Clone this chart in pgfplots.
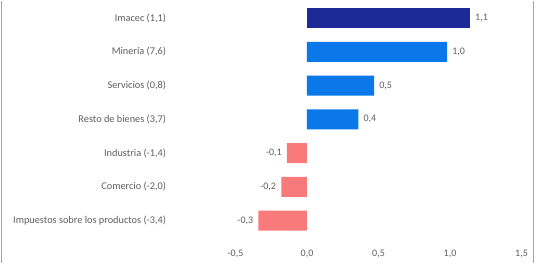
\documentclass[border=0pt]{standalone}
\usepackage{pgfplots}
\pgfplotsset{compat=1.18}
\usepackage{fontspec}
\setmainfont{Carlito}
\definecolor{navy}{HTML}{1B2A96}
\definecolor{bblue}{HTML}{0B78EA}
\definecolor{salmon}{HTML}{F87A7A}
\definecolor{txt}{HTML}{5E5E5E}
\begin{document}
\begin{tikzpicture}
\path (-235.5pt,-25pt) rectangle (304.5pt,237pt);
\draw[gray!70, line width=1pt] (-233.5pt,-25pt) -- (-233.5pt,237pt);
\draw[gray!70, line width=1pt] (297.5pt,-25pt) -- (297.5pt,237pt);
\begin{axis}[
  at={(0pt,0pt)}, anchor=south west,
  scale only axis,
  width=286pt, height=236.4pt,
  xbar, bar width=20pt,
  xmin=-0.5, xmax=1.5,
  ymin=-0.5, ymax=6.5, y dir=reverse,
  xtick={-0.5,0,0.5,1,1.5},
  ytick={0,1,2,3,4,5,6},
  yticklabels={{Imacec (1,1)},{Minería (7,6)},{Servicios (0,8)},{Resto de bienes (3,7)},{Industria (-1,4)},{Comercio (-2,0)},{Impuestos sobre los productos (-3,4)}},
  axis line style={draw=none},
  major tick length=0pt,
  tick label style={font=\fontsize{10}{11}\selectfont, text=txt},
  yticklabel style={anchor=east, xshift=-66pt, font=\fontsize{10.3}{11}\selectfont},
  xticklabel style={yshift=-9pt},
  /pgf/number format/.cd, fixed, fixed zerofill, precision=1, use comma, assume math mode=true,
  /pgfplots/.cd,
  point meta=x,
  nodes near coords={\pgfmathprintnumber[fixed,fixed zerofill,precision=1,use comma,assume math mode=true]{\pgfplotspointmeta}},
  nodes near coords style={font=\fontsize{10}{11}\selectfont, text=txt, inner sep=5pt},
]
\addplot[fill=navy, draw=none, bar shift=0pt] coordinates {(1.14,0)};
\addplot[fill=bblue, draw=none, bar shift=0pt] coordinates {(0.98,1) (0.47,2) (0.36,3)};
\addplot[fill=salmon, draw=none, bar shift=0pt] coordinates {(-0.14,4) (-0.18,5) (-0.34,6)};
\end{axis}
\end{tikzpicture}
\end{document}
